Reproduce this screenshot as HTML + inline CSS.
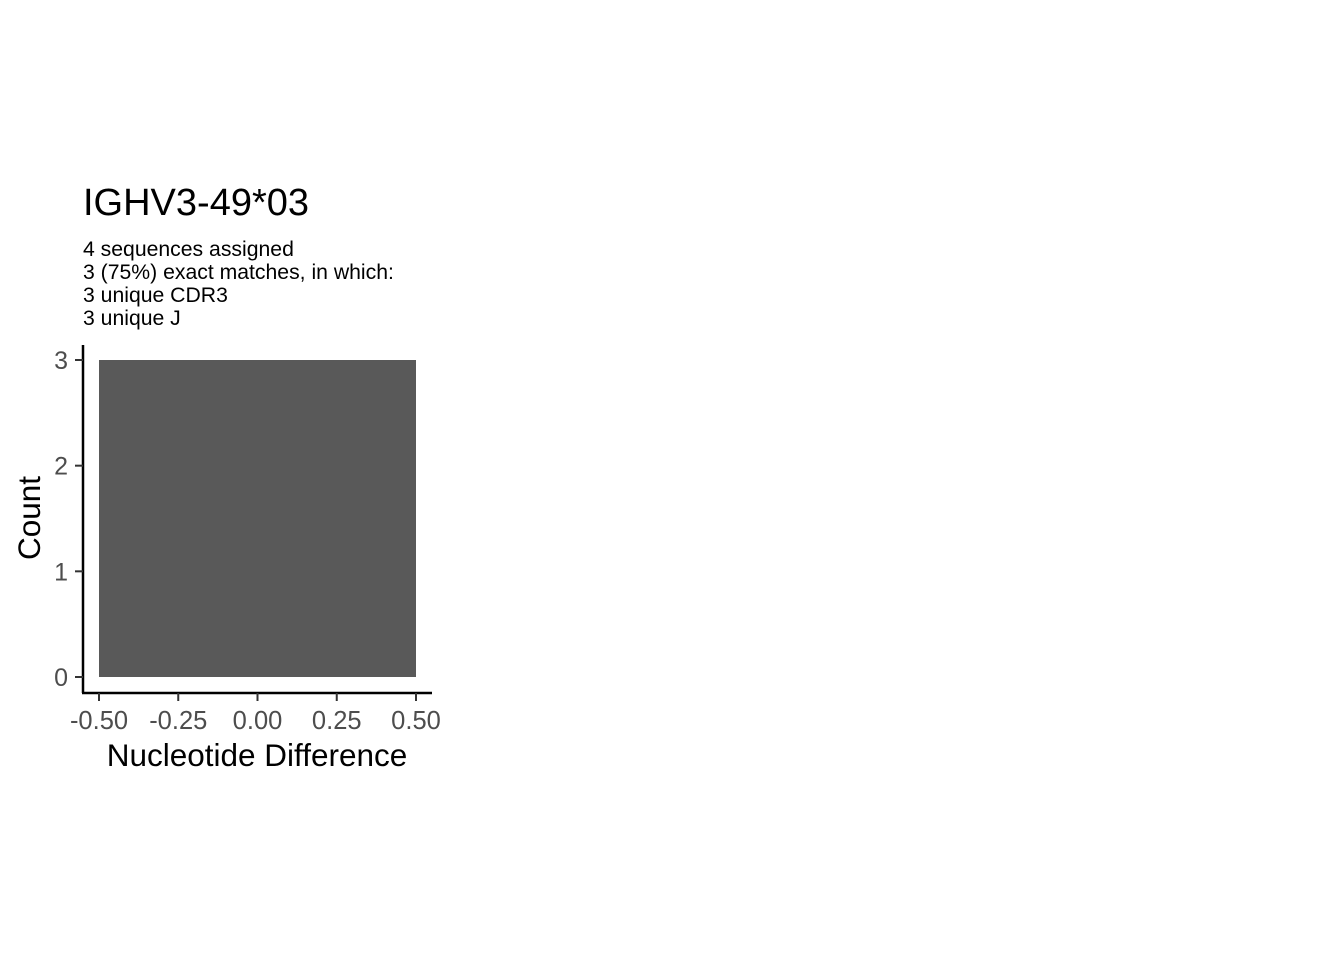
<!DOCTYPE html>
<html><head><meta charset="utf-8"><style>
body{margin:0;background:#fff;}
svg{display:block;font-family:"Liberation Sans",Arial,sans-serif;}
</style></head><body>
<svg id="chart" width="1344" height="960">
<text x="83" y="215" font-size="38" fill="#000">IGHV3-49*03</text>
<g font-size="21.2" fill="#000">
<text x="83" y="256">4 sequences assigned</text>
<text x="83" y="279">3 (75%) exact matches, in which:</text>
<text x="83" y="302">3 unique CDR3</text>
<text x="83" y="325">3 unique J</text>
</g>
<g id="marks"></g>
<g id="axes"></g>
<text transform="translate(40,518) rotate(-90)" text-anchor="middle" font-size="31.5" fill="#000">Count</text>
<text x="257" y="766" text-anchor="middle" font-size="31.5" fill="#000">Nucleotide Difference</text>
</svg>
<script>
const categories = [0];
const counts = [3];
const xTicks = [-0.5, -0.25, 0, 0.25, 0.5];
const xTickLabels = ["-0.50", "-0.25", "0.00", "0.25", "0.50"];
const yTicks = [0, 1, 2, 3];
const ns = "http://www.w3.org/2000/svg";
const xs = v => 99 + (v + 0.5) * 317;
const ys = v => 677 - v * (317 / 3);
function mk(tag, attrs, parent) { const e = document.createElementNS(ns, tag); for (const k in attrs) e.setAttribute(k, attrs[k]); parent.appendChild(e); return e; }
const marks = document.getElementById('marks'), axes = document.getElementById('axes');
categories.forEach((c, i) => {
  const r = mk('rect', {x: xs(c - 0.5), y: ys(counts[i]), width: xs(c + 0.5) - xs(c - 0.5), height: ys(0) - ys(counts[i]), fill: '#595959'}, marks);
  
  
});
const ya = mk('line', {x1: 83, y1: 345, x2: 83, y2: 693, stroke: '#000', 'stroke-width': 2.5}, axes);


const xa = mk('line', {x1: 82, y1: 693, x2: 432, y2: 693, stroke: '#000', 'stroke-width': 2.5}, axes);


yTicks.forEach(t => {
  const l = mk('line', {x1: 75, y1: ys(t), x2: 83, y2: ys(t), stroke: '#333', 'stroke-width': 2}, axes);
  
  
  const tx = mk('text', {x: 68, y: ys(t) + 9, 'text-anchor': 'end', 'font-size': 25, fill: '#4d4d4d'}, axes);
  tx.textContent = t;
  
  
});
xTicks.forEach((t, i) => {
  const l = mk('line', {x1: xs(t), y1: 693, x2: xs(t), y2: 701, stroke: '#333', 'stroke-width': 2}, axes);
  
  
  const tx = mk('text', {x: xs(t), y: 729, 'text-anchor': 'middle', 'font-size': 25.5, fill: '#4d4d4d'}, axes);
  tx.textContent = xTickLabels[i];
  
  
});
</script>
</body></html>
